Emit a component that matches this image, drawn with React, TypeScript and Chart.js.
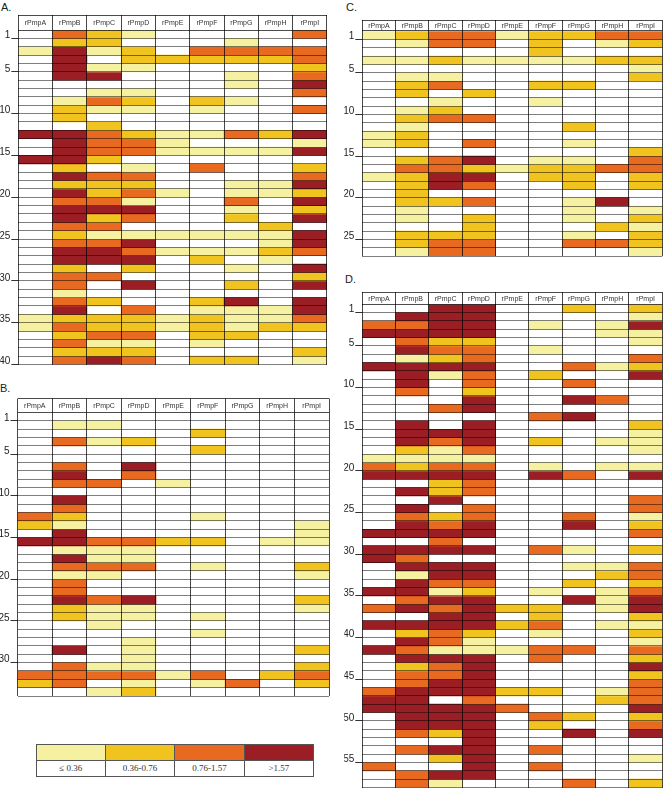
import React, { useEffect, useRef } from 'react';
import { Chart, registerables } from 'chart.js';

Chart.register(...registerables);

// ---------- data ----------
const genes = ['rPmpA', 'rPmpB', 'rPmpC', 'rPmpD', 'rPmpE', 'rPmpF', 'rPmpG', 'rPmpH', 'rPmpI'];

// 0 = no value (white), 1 = ≤0.36, 2 = 0.36-0.76, 3 = 0.76-1.57, 4 = >1.57
const levelColors = ['rgba(0,0,0,0)', '#F6F1A1', '#F1C31F', '#E86A20', '#9B1E24'];
const legendLabels = ['\u2264 0.36', '0.36-0.76', '0.76-1.57', '>1.57'];

const panelARows = [
  [0, 3, 2, 1, 0, 0, 0, 0, 3],
  [0, 2, 2, 0, 0, 0, 1, 0, 0],
  [1, 4, 1, 2, 0, 3, 3, 3, 3],
  [0, 4, 0, 2, 2, 2, 2, 2, 3],
  [0, 4, 1, 1, 0, 0, 0, 0, 2],
  [0, 4, 4, 0, 0, 0, 1, 0, 3],
  [0, 0, 0, 0, 0, 0, 1, 0, 4],
  [0, 0, 1, 1, 0, 0, 0, 0, 3],
  [0, 1, 3, 2, 0, 2, 1, 0, 0],
  [0, 2, 1, 1, 0, 1, 0, 0, 3],
  [0, 2, 0, 0, 0, 0, 0, 0, 0],
  [0, 0, 2, 0, 0, 0, 0, 0, 0],
  [4, 4, 3, 2, 1, 1, 3, 2, 4],
  [0, 4, 3, 3, 1, 0, 0, 0, 1],
  [0, 4, 3, 3, 1, 1, 1, 1, 4],
  [4, 4, 2, 0, 0, 0, 0, 0, 0],
  [0, 2, 0, 1, 0, 3, 0, 0, 2],
  [0, 4, 3, 3, 0, 0, 0, 0, 3],
  [0, 2, 2, 2, 0, 0, 1, 1, 4],
  [0, 4, 2, 3, 1, 0, 1, 1, 2],
  [0, 3, 3, 1, 0, 0, 3, 0, 4],
  [0, 4, 4, 4, 0, 0, 1, 0, 2],
  [0, 4, 2, 3, 0, 0, 2, 0, 4],
  [0, 3, 3, 0, 0, 0, 0, 2, 0],
  [0, 2, 1, 1, 1, 1, 1, 1, 4],
  [0, 3, 3, 4, 0, 0, 0, 1, 4],
  [0, 4, 4, 3, 1, 1, 1, 2, 3],
  [0, 4, 4, 4, 0, 2, 0, 1, 0],
  [0, 2, 0, 2, 0, 0, 1, 0, 4],
  [0, 3, 3, 0, 0, 0, 0, 0, 2],
  [0, 3, 0, 4, 0, 0, 2, 0, 4],
  [0, 1, 0, 0, 0, 0, 0, 0, 0],
  [0, 3, 2, 0, 0, 2, 4, 0, 4],
  [0, 4, 0, 3, 0, 1, 1, 1, 4],
  [1, 2, 2, 2, 1, 2, 1, 1, 3],
  [1, 3, 2, 2, 1, 2, 1, 2, 2],
  [0, 2, 3, 3, 0, 2, 2, 0, 0],
  [0, 3, 1, 1, 0, 1, 0, 0, 0],
  [0, 2, 2, 2, 0, 0, 0, 0, 2],
  [0, 3, 4, 3, 0, 2, 2, 0, 1],
];

const panelBRows = [
  [0, 0, 0, 0, 0, 0, 0, 0, 0],
  [0, 1, 1, 0, 0, 0, 0, 0, 0],
  [0, 0, 0, 0, 0, 2, 0, 0, 0],
  [0, 3, 1, 2, 0, 0, 0, 0, 0],
  [0, 0, 0, 0, 0, 2, 0, 0, 0],
  [0, 0, 0, 0, 0, 0, 0, 0, 0],
  [0, 3, 0, 4, 0, 0, 0, 0, 0],
  [0, 4, 0, 3, 0, 0, 0, 0, 0],
  [0, 3, 3, 0, 1, 0, 0, 0, 0],
  [0, 0, 0, 0, 0, 0, 0, 0, 0],
  [0, 4, 0, 0, 0, 0, 0, 0, 0],
  [0, 3, 0, 0, 0, 0, 0, 0, 0],
  [3, 2, 0, 0, 0, 1, 0, 0, 0],
  [2, 1, 0, 0, 0, 0, 0, 0, 1],
  [0, 4, 0, 0, 0, 0, 0, 0, 1],
  [4, 4, 3, 3, 2, 2, 0, 1, 1],
  [0, 1, 1, 1, 0, 0, 0, 0, 0],
  [0, 4, 1, 1, 0, 0, 0, 0, 0],
  [0, 3, 3, 3, 0, 1, 0, 0, 2],
  [0, 1, 1, 0, 0, 0, 0, 0, 1],
  [0, 3, 0, 0, 0, 0, 0, 0, 0],
  [0, 3, 0, 0, 0, 0, 0, 0, 0],
  [0, 4, 3, 4, 0, 0, 0, 0, 2],
  [0, 2, 1, 1, 0, 0, 0, 0, 1],
  [0, 2, 1, 1, 0, 1, 0, 0, 0],
  [0, 0, 1, 0, 0, 0, 0, 0, 0],
  [0, 0, 0, 0, 0, 1, 0, 0, 0],
  [0, 0, 0, 1, 0, 0, 0, 0, 0],
  [0, 4, 0, 1, 0, 0, 0, 0, 2],
  [0, 0, 0, 1, 0, 0, 0, 0, 0],
  [0, 3, 1, 1, 0, 0, 0, 0, 2],
  [3, 3, 3, 3, 1, 3, 0, 2, 3],
  [2, 3, 0, 1, 0, 1, 3, 0, 2],
  [0, 0, 1, 2, 0, 0, 0, 0, 0],
];

const panelCRows = [
  [1, 2, 3, 3, 1, 2, 2, 3, 3],
  [0, 1, 3, 3, 0, 2, 0, 1, 2],
  [0, 0, 0, 0, 0, 2, 0, 0, 0],
  [1, 1, 2, 1, 1, 1, 1, 2, 2],
  [0, 0, 0, 0, 0, 0, 0, 0, 1],
  [0, 1, 1, 0, 0, 0, 0, 0, 2],
  [0, 2, 3, 0, 0, 2, 2, 0, 0],
  [0, 2, 0, 2, 0, 0, 0, 0, 0],
  [0, 0, 1, 0, 0, 1, 0, 0, 0],
  [0, 1, 2, 0, 0, 0, 0, 0, 0],
  [0, 2, 3, 3, 0, 0, 0, 0, 0],
  [0, 1, 0, 0, 0, 0, 2, 0, 0],
  [1, 2, 0, 0, 0, 0, 0, 0, 0],
  [1, 2, 0, 3, 0, 0, 1, 0, 0],
  [0, 0, 0, 0, 0, 0, 0, 0, 2],
  [0, 2, 3, 4, 0, 1, 1, 0, 3],
  [0, 3, 3, 2, 1, 2, 2, 3, 3],
  [1, 2, 4, 4, 0, 2, 2, 0, 2],
  [0, 2, 4, 3, 0, 0, 2, 0, 2],
  [0, 2, 0, 0, 0, 0, 0, 0, 0],
  [0, 2, 2, 3, 0, 0, 1, 4, 0],
  [0, 1, 0, 0, 0, 0, 1, 0, 1],
  [0, 1, 0, 2, 0, 0, 1, 0, 2],
  [0, 0, 0, 2, 0, 0, 0, 2, 1],
  [0, 2, 2, 2, 0, 0, 1, 0, 2],
  [0, 2, 3, 3, 0, 0, 3, 3, 2],
  [0, 1, 3, 3, 0, 0, 0, 0, 1],
];

const panelDRows = [
  [0, 0, 4, 4, 0, 0, 2, 0, 2],
  [0, 4, 4, 4, 0, 0, 0, 0, 1],
  [3, 3, 4, 4, 0, 1, 0, 1, 4],
  [4, 4, 4, 4, 0, 0, 0, 1, 1],
  [0, 3, 2, 2, 0, 0, 0, 0, 1],
  [0, 4, 3, 3, 0, 1, 0, 0, 0],
  [0, 1, 2, 3, 0, 0, 0, 0, 3],
  [4, 4, 4, 4, 0, 0, 3, 1, 2],
  [0, 4, 1, 3, 0, 2, 0, 0, 4],
  [0, 4, 0, 3, 0, 0, 3, 0, 0],
  [0, 3, 0, 2, 0, 0, 0, 0, 0],
  [0, 0, 0, 4, 0, 0, 4, 3, 0],
  [0, 0, 3, 4, 0, 0, 0, 0, 0],
  [0, 0, 0, 0, 0, 3, 4, 0, 0],
  [0, 4, 0, 4, 0, 0, 0, 0, 2],
  [0, 4, 4, 4, 0, 0, 0, 0, 1],
  [0, 4, 3, 4, 0, 2, 0, 1, 1],
  [0, 2, 1, 3, 0, 0, 0, 0, 1],
  [1, 1, 1, 1, 0, 0, 0, 0, 0],
  [3, 2, 3, 3, 0, 1, 0, 1, 1],
  [4, 4, 4, 4, 0, 4, 3, 0, 4],
  [0, 0, 2, 3, 0, 0, 0, 0, 0],
  [0, 4, 2, 3, 0, 0, 0, 0, 0],
  [0, 0, 4, 0, 0, 0, 0, 0, 3],
  [0, 4, 0, 3, 0, 0, 0, 0, 3],
  [0, 3, 2, 3, 0, 0, 3, 0, 1],
  [0, 4, 3, 4, 0, 0, 4, 0, 2],
  [4, 4, 4, 4, 0, 0, 0, 0, 3],
  [0, 0, 3, 0, 0, 0, 0, 0, 0],
  [4, 4, 4, 4, 0, 3, 1, 0, 2],
  [4, 3, 0, 0, 0, 0, 0, 0, 0],
  [0, 4, 4, 4, 0, 0, 1, 1, 3],
  [0, 1, 4, 4, 0, 0, 0, 2, 3],
  [0, 4, 3, 3, 0, 0, 2, 0, 2],
  [4, 4, 1, 2, 0, 1, 0, 1, 3],
  [0, 3, 4, 4, 0, 0, 4, 1, 4],
  [3, 4, 3, 4, 2, 2, 0, 1, 4],
  [0, 0, 4, 4, 0, 2, 0, 0, 2],
  [4, 4, 4, 4, 2, 3, 0, 1, 1],
  [0, 2, 3, 2, 0, 1, 0, 0, 2],
  [0, 4, 3, 1, 0, 0, 0, 0, 1],
  [4, 3, 1, 1, 1, 3, 3, 0, 3],
  [0, 4, 4, 4, 0, 3, 0, 0, 2],
  [0, 2, 3, 4, 0, 0, 0, 0, 4],
  [0, 3, 3, 4, 0, 0, 0, 0, 2],
  [0, 3, 4, 4, 0, 0, 0, 0, 3],
  [3, 4, 4, 4, 2, 2, 0, 1, 3],
  [4, 4, 0, 3, 0, 0, 0, 2, 3],
  [4, 4, 4, 4, 3, 0, 0, 0, 4],
  [0, 4, 4, 4, 0, 3, 2, 0, 2],
  [0, 4, 4, 4, 0, 2, 0, 0, 3],
  [0, 3, 2, 4, 0, 0, 4, 0, 4],
  [0, 0, 0, 4, 0, 0, 0, 0, 0],
  [0, 3, 4, 4, 0, 3, 0, 0, 0],
  [0, 0, 2, 4, 0, 0, 0, 0, 1],
  [3, 0, 0, 4, 0, 3, 0, 0, 0],
  [0, 3, 4, 4, 0, 0, 0, 0, 0],
  [0, 3, 1, 0, 0, 0, 3, 0, 2],
];

const ticksA = [1, 5, 10, 15, 20, 25, 30, 35, 40];
const ticksB = [1, 5, 10, 15, 20, 25, 30];
const ticksC = [1, 5, 10, 15, 20, 25];
const ticksD = [1, 5, 10, 15, 20, 25, 30, 35, 40, 45, 50, 55];

// ---------- layout ----------
type PanelSpec = {
  title: string;
  rows: number[][];
  ticks: number[];
  gridLeft: number;
  gridRight: number;
  headerTop: number;
  rowsTop: number;
  bottom: number;
  titleX: number;
  titleY: number;
};

const panels: PanelSpec[] = [
  { title: 'A.', rows: panelARows, ticks: ticksA, gridLeft: 18.3, gridRight: 327, headerTop: 15, rowsTop: 30, bottom: 364.5, titleX: 1, titleY: 1 },
  { title: 'B.', rows: panelBRows, ticks: ticksB, gridLeft: 17.5, gridRight: 329, headerTop: 398.5, rowsTop: 412.5, bottom: 696, titleX: 0, titleY: 382 },
  { title: 'C.', rows: panelCRows, ticks: ticksC, gridLeft: 362.3, gridRight: 662.3, headerTop: 20, rowsTop: 31, bottom: 256, titleX: 346, titleY: 1 },
  { title: 'D.', rows: panelDRows, ticks: ticksD, gridLeft: 362.3, gridRight: 662.3, headerTop: 292, rowsTop: 304.3, bottom: 787.5, titleX: 345, titleY: 273 },
];

const SANS = '"Liberation Sans", Arial, sans-serif';
const SERIF = '"Liberation Serif", "Times New Roman", serif';

function HeatPanel({ spec }: { spec: PanelSpec }) {
  const ref = useRef<HTMLCanvasElement>(null);
  const axisW = 18;
  const left = Math.floor(spec.gridLeft - axisW);
  const top = Math.floor(spec.headerTop - 2);
  const width = Math.ceil(spec.gridRight + 2 - left);
  const height = Math.ceil(spec.bottom + 7 - top);

  useEffect(() => {
    const n = spec.rows.length;
    const rowH = (spec.bottom - spec.rowsTop) / n;
    const H = (spec.rowsTop - spec.headerTop) / rowH;
    const labelled = new Set(spec.ticks);
    const gridValues = [-H, 0];
    for (let i = 1; i <= n; i++) gridValues.push(i);

    const headerPlugin = {
      id: 'geneHeader',
      afterDraw(chart: any) {
        const { ctx } = chart;
        const xs = chart.scales.x;
        const ys = chart.scales.y;
        const yMid = ys.getPixelForValue(-H / 2);
        ctx.save();
        ctx.font = `7px ${SANS}`;
        ctx.fillStyle = '#333';
        ctx.textAlign = 'center';
        ctx.textBaseline = 'middle';
        genes.forEach((g, i) => ctx.fillText(g, xs.getPixelForValue(i), yMid + 0.5));
        ctx.restore();
      },
    };

    const chart = new Chart(ref.current as HTMLCanvasElement, {
      type: 'bar',
      data: {
        labels: genes,
        datasets: spec.rows.map((row, r) => ({
          label: `row ${r + 1}`,
          data: row.map((v) => (v > 0 ? [r, r + 1] : null)) as any,
          backgroundColor: row.map((v) => levelColors[v]),
          borderWidth: 0,
          grouped: false,
          barPercentage: 1,
          categoryPercentage: 1,
        })),
      },
      options: {
        responsive: false,
        animation: false,
        devicePixelRatio: 1,
        layout: {
          padding: {
            left: spec.gridLeft - axisW - left,
            right: left + width - spec.gridRight,
            top: spec.headerTop - top,
            bottom: top + height - spec.bottom,
          },
        },
        plugins: { legend: { display: false }, tooltip: { enabled: false } },
        scales: {
          x: {
            type: 'category',
            position: 'bottom',
            offset: true,
            ticks: { display: false },
            border: { display: false },
            grid: { offset: true, drawTicks: false, color: 'rgba(0,0,0,0.72)', lineWidth: 1, z: 2 },
            afterFit: (s: any) => {
              s.height = 0;
              s.paddingLeft = 0;
              s.paddingRight = 0;
            },
          },
          y: {
            type: 'linear',
            reverse: true,
            min: -H,
            max: n,
            border: { display: false },
            afterBuildTicks: (s: any) => {
              s.ticks = gridValues.map((v) => ({ value: v }));
            },
            afterFit: (s: any) => {
              s.width = axisW;
              s.paddingTop = 0;
              s.paddingBottom = 0;
            },
            grid: {
              z: 1,
              color: (ctx: any) => (ctx.tick && (ctx.tick.value <= 0) ? 'rgba(0,0,0,0.7)' : 'rgba(0,0,0,0.5)'),
              lineWidth: 1,
              tickLength: 7,
              tickColor: (ctx: any) => (ctx.tick && labelled.has(ctx.tick.value) ? '#333' : 'rgba(0,0,0,0)'),
            },
            ticks: {
              autoSkip: false,
              padding: 1,
              labelOffset: -3,
              color: '#222',
              font: { size: 10, family: SANS },
              callback: (v: any) => (labelled.has(v) ? String(v) : ''),
            },
          },
        },
      } as any,
      plugins: [headerPlugin],
    });
    return () => chart.destroy();
  }, [spec]);

  return (
    <>
      <div
        style={{
          position: 'absolute',
          left: spec.titleX,
          top: spec.titleY,
          font: `11px ${SANS}`,
          color: '#222',
          lineHeight: '13px',
        }}
      >
        {spec.title}
      </div>
      <canvas
        ref={ref}
        width={width}
        height={height}
        style={{ position: 'absolute', left, top, width, height }}
      />
    </>
  );
}

function Legend() {
  const cellW = 68.4;
  return (
    <table
      style={{
        position: 'absolute',
        left: 35.5,
        top: 744,
        borderCollapse: 'collapse',
        tableLayout: 'fixed',
        width: cellW * 4,
      }}
    >
      <tbody>
        <tr>
          {legendLabels.map((l, i) => (
            <td
              key={l}
              style={{ border: '1px solid #555', height: 15, padding: 0, background: levelColors[i + 1], width: cellW }}
            />
          ))}
        </tr>
        <tr>
          {legendLabels.map((l) => (
            <td
              key={l}
              style={{
                border: '1px solid #555',
                height: 15,
                padding: 0,
                textAlign: 'center',
                font: `9px ${SERIF}`,
                color: '#333',
                lineHeight: '15px',
              }}
            >
              {l}
            </td>
          ))}
        </tr>
      </tbody>
    </table>
  );
}

export default function App() {
  return (
    <div
      style={{
        position: 'absolute',
        left: 0,
        top: 0,
        width: 664,
        height: 790,
        overflow: 'hidden',
        background: '#fff',
      }}
    >
      {panels.map((p) => (
        <HeatPanel key={p.title} spec={p} />
      ))}
      <Legend />
    </div>
  );
}
